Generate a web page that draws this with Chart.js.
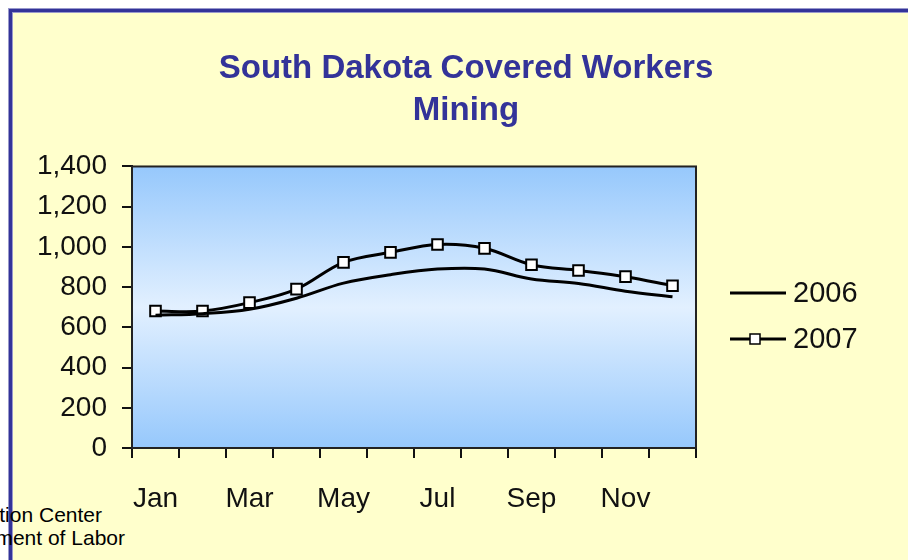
<!DOCTYPE html>
<html>
<head>
<meta charset="utf-8">
<script src="https://cdn.jsdelivr.net/npm/chart.js@4"></script>
<style>
  html, body { margin: 0; padding: 0; background: #ffffff; overflow: hidden; }
  #frame {
    position: absolute; left: 9px; top: 9px; width: 920px; height: 580px;
    background: #ffffcc;
    border-left: 3px solid #333399; border-top: 3px solid #333399;
    box-shadow: -1px -1px 0 #9999cc, inset 1px 1px 0 #9999cc;
  }
  #wrap { position: absolute; left: 0; top: 0; width: 908px; height: 560px; }
  .src {
    position: absolute; width: 400px; height: 23px;
    text-align: right; font-family: "Liberation Sans", Arial, sans-serif;
    font-size: 21px; line-height: 23px; color: #000; white-space: nowrap;
  }
  #src1 { left: -298px; top: 503px; }
  #src2 { left: -275px; top: 526px; }
</style>
</head>
<body>
<div id="frame"></div>
<div id="src1" class="src">Labor Market Information Center</div>
<div id="src2" class="src">South Dakota Department of Labor</div>
<div id="wrap"><canvas id="chart" width="908" height="560"></canvas></div>
<script>
const months = ['Jan','Feb','Mar','Apr','May','Jun','Jul','Aug','Sep','Oct','Nov','Dec'];
const workers2006 = [660, 668, 690, 745, 820, 862, 890, 890, 840, 818, 780, 752];
const workers2007 = [681, 681, 723, 790, 923, 973, 1012, 993, 911, 883, 852, 807];
const seriesNames = ['2006', '2007'];

const FONT = '"Liberation Sans", Arial, sans-serif';

// blue gradient behind the lines + dark frame round the plot
const plotBack = {
  id: 'plotBack',
  beforeDatasetsDraw(chart) {
    const a = chart.chartArea, ctx = chart.ctx;
    const g = ctx.createLinearGradient(0, a.top, 0, a.bottom);
    g.addColorStop(0, '#96c8fc');
    g.addColorStop(0.5, '#e2f0ff');
    g.addColorStop(1, '#96c8fc');
    ctx.save();
    ctx.fillStyle = g;
    ctx.fillRect(a.left, a.top, a.right - a.left, a.bottom - a.top);
    ctx.strokeStyle = '#222';
    ctx.lineWidth = 2;
    ctx.strokeRect(a.left, a.top, a.right - a.left, a.bottom - a.top);
    ctx.restore();
  }
};

// legend on the right: line, and square marker for 2007
const sideLegend = {
  id: 'sideLegend',
  afterDraw(chart) {
    const ctx = chart.ctx;
    const x0 = chart.chartArea.right + 34;
    chart.data.datasets.forEach(function(ds, i) {
      const y = 293 + i * 46;
      ctx.save();
      ctx.strokeStyle = ds.borderColor;
      ctx.lineWidth = ds.borderWidth;
      ctx.beginPath();
      ctx.moveTo(x0, y);
      ctx.lineTo(x0 + 56, y);
      ctx.stroke();
      if (ds.pointRadius > 0) {
        ctx.fillStyle = ds.pointBackgroundColor;
        ctx.strokeStyle = ds.pointBorderColor;
        ctx.lineWidth = 1.5;
        ctx.fillRect(x0 + 20, y - 5, 10, 10);
        ctx.strokeRect(x0 + 20, y - 5, 10, 10);
      }
      ctx.fillStyle = '#111';
      ctx.font = '29px ' + FONT;
      ctx.textBaseline = 'middle';
      ctx.fillText(ds.label, x0 + 63, y + 1);
      ctx.restore();
    });
  }
};

new Chart(document.getElementById('chart'), {
  type: 'line',
  data: {
    labels: months,
    datasets: [
      {
        label: seriesNames[0],
        data: workers2006,
        borderColor: '#000',
        borderWidth: 3,
        pointRadius: 0,
        tension: 0.35
      },
      {
        label: seriesNames[1],
        data: workers2007,
        borderColor: '#000',
        borderWidth: 3,
        pointStyle: 'rect',
        pointRadius: 7.5,
        pointBackgroundColor: '#fff',
        pointBorderColor: '#000',
        pointBorderWidth: 2,
        tension: 0.35
      }
    ]
  },
  options: {
    responsive: false,
    animation: false,
    layout: { padding: { left: 24, right: 0, top: 12, bottom: 0 } },
    plugins: {
      legend: { display: false },
      tooltip: { enabled: false },
      title: {
        display: true,
        text: ['South Dakota Covered Workers', 'Mining'],
        color: '#333399',
        font: { family: FONT, size: 33, weight: 'bold', lineHeight: 1.28 },
        padding: { top: 36, bottom: 34 }
      }
    },
    scales: {
      x: {
        offset: true,
        grid: { offset: true, drawOnChartArea: false, drawTicks: true, tickLength: 10, color: '#111', lineWidth: 2 },
        border: { color: '#111', width: 2 },
        ticks: {
          autoSkip: false,
          maxRotation: 0,
          padding: 24,
          color: '#111',
          font: { family: FONT, size: 28 },
          callback: function(v, i) { return i % 2 === 0 ? months[i] : ''; }
        },
        afterFit: function(scale) { scale.height = 112; }
      },
      y: {
        min: 0,
        max: 1400,
        grid: { drawOnChartArea: false, drawTicks: true, tickLength: 10, color: '#111', lineWidth: 2 },
        border: { color: '#111', width: 2 },
        ticks: {
          stepSize: 200,
          padding: 15,
          color: '#111',
          font: { family: FONT, size: 28 },
          callback: function(v) { return v.toLocaleString('en-US'); }
        },
        afterFit: function(scale) { scale.width = 108; }
      },
      // empty right-hand axis: keeps room for the legend
      legendRoom: {
        type: 'linear',
        position: 'right',
        display: true,
        grid: { display: false, drawTicks: false },
        border: { display: false },
        ticks: { display: false },
        afterFit: function(scale) { scale.width = 212; }
      }
    }
  },
  plugins: [plotBack, sideLegend]
});
</script>
</body>
</html>
